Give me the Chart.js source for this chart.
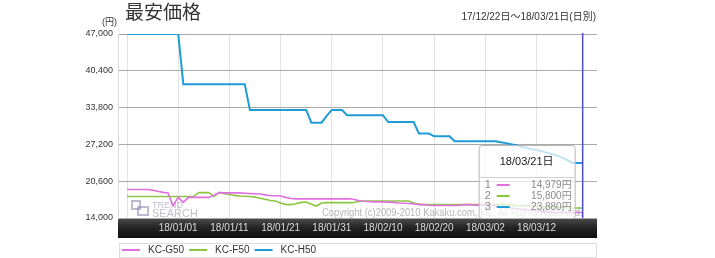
<!DOCTYPE html>
<html lang="ja">
<head>
<meta charset="utf-8">
<title>最安価格</title>
<script src="https://cdn.jsdelivr.net/npm/chart.js@4.4.1/dist/chart.umd.min.js"></script>
<style>
  html, body { margin: 0; padding: 0; background: #fff; }
  #wrap { width: 715px; height: 258px; }
</style>
</head>
<body>
<div id="wrap"><canvas id="price-chart" width="715" height="258"></canvas></div>
<script>
// 17/12/22 .. 18/03/21, one value per day
const periodText = '17/12/22日～18/03/21日(日別)';
const lastDayText = '18/03/21日';
const seriesNames = ['KC-G50', 'KC-F50', 'KC-H50'];
const seriesColors = ['#e070e0', '#8cc540', '#1f9bd7'];

const kcG50 = [
    19100, 19100, 19100, 19100, 19100, 19000, 18800, 18600, 18500, 16200,
    17700, 16800, 17700, 17700, 17700, 17700, 17700, 18100, 18550, 18500,
    18500, 18500, 18500, 18450, 18400, 18350, 18300, 18150, 18000, 18000,
    17950, 17700, 17500, 17430, 17430, 17430, 17430, 17430, 17430, 17430,
    17430, 17430, 17430, 17430, 17400, 17200, 17000, 16950, 16900, 16900,
    16900, 16850, 16800, 16700, 16650, 16600, 16500, 16450, 16400, 16300,
    16250, 16250, 16250, 16250, 16250, 16300, 16400, 16400, 16300, 16350,
    16350, 16300, 16200, 16000, 15900, 15800, 15700, 15600, 15500, 15400,
    15300, 15200, 15100, 14979, 14979, 14979, 14979, 14979, 14979, 14979
];
const kcF50 = [
    17850, 17850, 17850, 17850, 17850, 17850, 17850, 17850, 17850, 17850,
    17850, 17850, 17850, 17850, 18550, 18550, 18550, 17850, 18600, 18350,
    18200, 18050, 17950, 17900, 17850, 17750, 17550, 17350, 17150, 17050,
    16700, 16450, 16400, 16550, 16800, 16850, 16450, 16150, 16700, 16750,
    16750, 16750, 16750, 16750, 16750, 16900, 17050, 17050, 17050, 17050,
    17050, 17050, 17050, 17050, 17050, 17050, 16700, 16400, 16400, 16400,
    16400, 16400, 16400, 16400, 16400, 16400, 16400, 16400, 16400, 16400,
    16400, 16400, 16400, 16400, 16400, 16400, 16200, 16200, 16200, 16200,
    16200, 16000, 16000, 16000, 16000, 16000, 15800, 15800, 15800, 15800
];
const kcH50 = [
    47000, 47000, 47000, 47000, 47000, 47000, 47000, 47000, 47000, 47000,
    47000, 38000, 38000, 38000, 38000, 38000, 38000, 38000, 38000, 38000,
    38000, 38000, 38000, 38000, 33380, 33380, 33380, 33380, 33380, 33380,
    33380, 33380, 33380, 33380, 33380, 33380, 31100, 31100, 31100, 32300,
    33380, 33380, 33380, 32450, 32450, 32450, 32450, 32450, 32450, 32450,
    32450, 31200, 31200, 31200, 31200, 31200, 31200, 29150, 29150, 29150,
    28660, 28660, 28660, 28660, 27780, 27780, 27780, 27780, 27780, 27780,
    27780, 27780, 27780, 27600, 27430, 27250, 27070, 26800, 26560, 26350,
    26170, 25990, 25720, 25450, 25180, 24820, 24400, 23880, 23880, 23880
];

const tickDays = [0, 10, 20, 30, 40, 50, 60, 70, 80];
const tickLabels = ['', '18/01/01', '18/01/11', '18/01/21', '18/01/31', '18/02/10', '18/02/20', '18/03/02', '18/03/12'];
const yTicks = [14000, 20600, 27200, 33800, 40400, 47000];

const allSeries = [kcG50, kcF50, kcH50];
const latin = '"Liberation Sans", Arial, "Noto Sans CJK JP", sans-serif';
const cjk = '"Noto Sans CJK JP", "Liberation Sans", sans-serif';

const decorations = {
    id: 'decorations',
    beforeDraw(chart) {
        const { ctx, chartArea: a } = chart;
        ctx.save();
        // тёмная полоса под осью X
        const g = ctx.createLinearGradient(0, a.bottom, 0, a.bottom + 20);
        g.addColorStop(0, '#4e4e4e');
        g.addColorStop(0.45, '#262626');
        g.addColorStop(1, '#0d0d0d');
        ctx.fillStyle = g;
        ctx.fillRect(a.left, a.bottom, a.right - a.left, 20);
        ctx.restore();
    },
    afterDatasetsDraw(chart) {
        const { ctx, chartArea: a, scales } = chart;
        const last = kcH50.length - 1;
        const lx = scales.x.getPixelForValue(last);
        ctx.save();

        // watermark logo
        ctx.strokeStyle = 'rgba(140,130,170,0.55)';
        ctx.lineWidth = 2;
        ctx.strokeRect(a.left + 14, a.bottom - 17, 8, 8);
        ctx.strokeRect(a.left + 20, a.bottom - 11, 10, 8);
        ctx.fillStyle = 'rgba(140,140,160,0.55)';
        ctx.font = '9px ' + latin;
        ctx.textBaseline = 'alphabetic';
        ctx.fillText('TREND', a.left + 34, a.bottom - 10);
        ctx.font = '11px ' + latin;
        ctx.fillText('SEARCH', a.left + 34, a.bottom - 1);

        ctx.fillStyle = 'rgba(150,150,150,0.7)';
        ctx.font = '11px ' + latin;
        ctx.fillText('Copyright (c)2009-2010 Kakaku.com, Inc. All Rights Reserved.', 322, a.bottom - 2, lx - 322);

        // current day marker
        ctx.strokeStyle = '#4b4bdc';
        ctx.lineWidth = 1.5;
        ctx.beginPath();
        ctx.moveTo(lx, a.top - 1);
        ctx.lineTo(lx, a.bottom);
        ctx.stroke();

        // tooltip box
        const bx = lx - 104, bw = 96, by = a.bottom - 73, bh = 73;
        ctx.fillStyle = 'rgba(255,255,255,0.72)';
        ctx.strokeStyle = '#b8b8b8';
        ctx.lineWidth = 1;
        ctx.beginPath();
        ctx.roundRect(bx + 0.5, by + 0.5, bw, bh, 3);
        ctx.fill();
        ctx.stroke();
        ctx.strokeStyle = '#d0d0d0';
        ctx.beginPath();
        ctx.moveTo(bx, by + 32.5);
        ctx.lineTo(bx + bw, by + 32.5);
        ctx.stroke();

        ctx.fillStyle = '#1a1a1a';
        ctx.font = '11px ' + latin;
        ctx.textAlign = 'center';
        ctx.textBaseline = 'middle';
        ctx.fillText(lastDayText, bx + bw / 2, by + 17);

        allSeries.forEach((s, i) => {
            const ry = by + 40 + i * 11;
            ctx.textAlign = 'left';
            ctx.fillStyle = '#8a8a8a';
            ctx.font = '11px ' + latin;
            ctx.fillText(String(i + 1), bx + 6, ry);
            ctx.strokeStyle = seriesColors[i];
            ctx.lineWidth = 2;
            ctx.beginPath();
            ctx.moveTo(bx + 18, ry);
            ctx.lineTo(bx + 31, ry);
            ctx.stroke();
            ctx.textAlign = 'right';
            ctx.font = '10px ' + latin;
            ctx.fillText(s[last].toLocaleString('en-US') + '円', bx + bw - 3, ry);
        });
        ctx.restore();
    },
    afterDraw(chart) {
        const { ctx, chartArea: a } = chart;
        ctx.save();
        ctx.fillStyle = '#333';
        ctx.textBaseline = 'middle';
        ctx.font = '19px ' + cjk;
        ctx.fillText('最安価格', 125, 12);

        ctx.font = '10px ' + latin;
        ctx.textAlign = 'right';
        ctx.fillText(periodText, a.right - 1, 17);

        ctx.font = '9px ' + latin;
        ctx.fillText('(円)', a.left - 1, 23);

        // legend
        const ly = a.bottom + 32;
        ctx.fillStyle = '#fff';
        ctx.strokeStyle = '#dcdcdc';
        ctx.lineWidth = 1;
        ctx.fillRect(a.left + 1, ly - 7, a.right - a.left - 1, 14);
        ctx.strokeRect(a.left + 1.5, ly - 6.5, a.right - a.left - 2, 14);
        ctx.textAlign = 'left';
        ctx.font = '10px ' + latin;
        let x = a.left + 4;
        chart.data.datasets.forEach(ds => {
            ctx.strokeStyle = ds.borderColor;
            ctx.lineWidth = 2;
            ctx.beginPath();
            ctx.moveTo(x, ly);
            ctx.lineTo(x + 18, ly);
            ctx.stroke();
            ctx.fillStyle = '#333';
            ctx.fillText(ds.label, x + 26, ly + 0.5);
            x += 26 + ctx.measureText(ds.label).width + 5;
        });
        ctx.restore();
    }
};

const ctx = document.getElementById('price-chart').getContext('2d');
new Chart(ctx, {
    type: 'line',
    data: {
        datasets: allSeries.map((s, i) => ({
            label: seriesNames[i],
            data: s.map((v, d) => ({ x: d, y: v })),
            borderColor: seriesColors[i],
            backgroundColor: seriesColors[i],
            borderWidth: i === 2 ? 2 : 1.6,
            pointRadius: 0,
            tension: 0,
            fill: false
        }))
    },
    options: {
        responsive: false,
        animation: false,
        events: [],
        layout: { padding: { top: 34, right: 118, bottom: 20, left: 0 } },
        plugins: {
            legend: { display: false },
            tooltip: { enabled: false }
        },
        scales: {
            x: {
                type: 'linear',
                min: -1.76,
                max: 91.8,
                afterBuildTicks: scale => { scale.ticks = tickDays.map(v => ({ value: v })); },
                afterFit: scale => { scale.height = 20; },
                grid: { color: '#e3e3e3', drawTicks: false },
                border: { display: false },
                ticks: {
                    autoSkip: false,
                    maxRotation: 0,
                    padding: 4,
                    color: '#dcdcdc',
                    font: { size: 10, family: latin },
                    callback: (value, index) => tickLabels[index]
                }
            },
            y: {
                min: 14000,
                max: 47000,
                afterBuildTicks: scale => { scale.ticks = yTicks.map(v => ({ value: v })); },
                afterFit: scale => { scale.width = 118; },
                grid: { color: '#a9a9a9', drawTicks: false },
                border: { color: '#d8d8d8' },
                ticks: {
                    padding: 5,
                    color: '#333',
                    font: { size: 9, family: latin },
                    callback: v => v.toLocaleString('en-US')
                }
            }
        }
    },
    plugins: [decorations]
});
</script>
</body>
</html>
